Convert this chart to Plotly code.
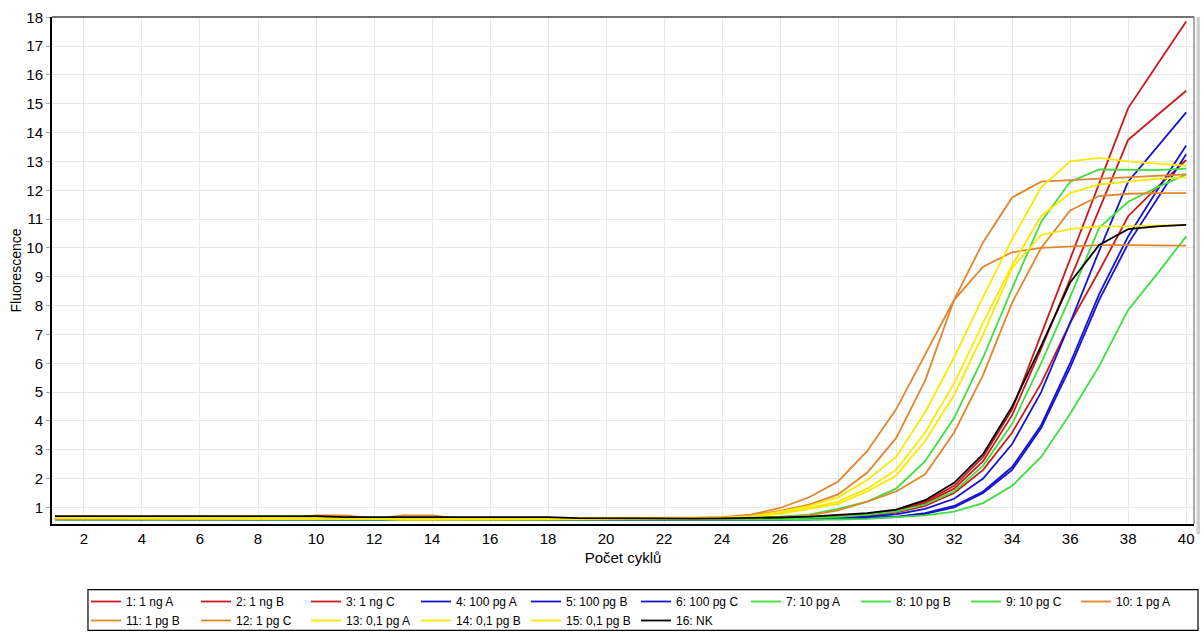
import plotly.graph_objects as go

cycles = list(range(1, 41))

names = ["1: 1 ng A", "2: 1 ng B", "3: 1 ng C", "4: 100 pg A", "5: 100 pg B", "6: 100 pg C",
         "7: 10 pg A", "8: 10 pg B", "9: 10 pg C", "10: 1 pg A", "11: 1 pg B", "12: 1 pg C",
         "13: 0,1 pg A", "14: 0,1 pg B", "15: 0,1 pg B", "16: NK"]

s1 = [0.62,0.62,0.61,0.61,0.61,0.61,0.61,0.61,0.61,0.61,0.60,0.60,0.60,0.60,0.60,0.60,0.60,0.59,0.59,0.59,
      0.59,0.59,0.60,0.60,0.61,0.62,0.64,0.68,0.76,0.88,1.20,1.75,2.75,4.40,7.00,9.60,12.20,14.85,16.35,17.85]
s2 = [0.61,0.61,0.61,0.61,0.60,0.60,0.60,0.60,0.60,0.60,0.60,0.60,0.59,0.59,0.59,0.59,0.59,0.59,0.59,0.59,
      0.59,0.59,0.59,0.60,0.60,0.61,0.63,0.67,0.74,0.86,1.15,1.65,2.60,4.20,6.50,8.90,11.30,13.75,14.60,15.45]
s3 = [0.60,0.60,0.60,0.60,0.60,0.60,0.59,0.59,0.59,0.59,0.59,0.59,0.59,0.58,0.58,0.58,0.58,0.58,0.58,0.58,
      0.58,0.58,0.58,0.59,0.59,0.60,0.62,0.65,0.71,0.82,1.05,1.50,2.30,3.60,5.30,7.40,9.20,11.10,12.10,13.05]
s4 = [0.60,0.60,0.59,0.59,0.59,0.59,0.59,0.58,0.58,0.58,0.58,0.58,0.58,0.58,0.58,0.58,0.58,0.57,0.57,0.57,
      0.57,0.57,0.57,0.58,0.58,0.59,0.60,0.63,0.68,0.76,0.95,1.30,2.00,3.20,5.00,7.40,9.90,12.30,13.50,14.70]
s5 = [0.59,0.59,0.59,0.58,0.58,0.58,0.58,0.58,0.57,0.57,0.57,0.57,0.57,0.57,0.57,0.57,0.56,0.56,0.56,0.56,
      0.56,0.56,0.56,0.57,0.57,0.58,0.59,0.61,0.63,0.67,0.80,1.05,1.55,2.40,3.85,6.00,8.40,10.40,12.00,13.55]
s6 = [0.58,0.58,0.58,0.58,0.58,0.57,0.57,0.57,0.57,0.57,0.57,0.57,0.56,0.56,0.56,0.56,0.56,0.56,0.56,0.56,
      0.56,0.56,0.56,0.56,0.57,0.57,0.58,0.60,0.62,0.66,0.78,1.00,1.50,2.30,3.75,5.85,8.20,10.15,11.70,13.25]
s7 = [0.62,0.62,0.61,0.61,0.61,0.61,0.61,0.61,0.61,0.61,0.61,0.61,0.60,0.60,0.60,0.60,0.60,0.60,0.60,0.60,
      0.60,0.60,0.61,0.62,0.64,0.68,0.75,0.95,1.20,1.65,2.60,4.10,6.20,8.60,10.90,12.30,12.72,12.70,12.70,12.75]
s8 = [0.60,0.60,0.60,0.60,0.60,0.60,0.60,0.60,0.60,0.60,0.59,0.59,0.59,0.59,0.59,0.59,0.58,0.58,0.58,0.58,
      0.58,0.58,0.58,0.59,0.60,0.61,0.63,0.67,0.74,0.85,1.10,1.55,2.45,3.90,6.00,8.30,10.70,11.60,12.10,12.55]
s9 = [0.58,0.58,0.58,0.58,0.58,0.58,0.58,0.58,0.58,0.58,0.58,0.57,0.57,0.57,0.57,0.57,0.57,0.57,0.56,0.56,
      0.56,0.56,0.56,0.56,0.56,0.57,0.57,0.58,0.60,0.65,0.72,0.85,1.15,1.75,2.75,4.25,5.90,7.85,9.10,10.40]
s10 = [0.63,0.63,0.63,0.63,0.63,0.63,0.63,0.63,0.63,0.63,0.63,0.62,0.62,0.62,0.62,0.62,0.62,0.62,0.62,0.62,
       0.62,0.63,0.64,0.66,0.75,0.98,1.35,1.90,2.95,4.40,6.30,8.20,9.35,9.85,10.00,10.05,10.10,10.10,10.10,10.08]
s11 = [0.62,0.62,0.62,0.62,0.62,0.62,0.62,0.62,0.62,0.72,0.72,0.62,0.62,0.62,0.61,0.61,0.61,0.61,0.61,0.61,
       0.61,0.62,0.63,0.65,0.72,0.88,1.10,1.45,2.20,3.40,5.40,8.20,10.20,11.75,12.30,12.35,12.40,12.45,12.50,12.55]
s12 = [0.60,0.60,0.60,0.60,0.60,0.60,0.60,0.60,0.60,0.60,0.60,0.60,0.72,0.72,0.60,0.60,0.60,0.59,0.59,0.59,
       0.59,0.59,0.60,0.61,0.63,0.66,0.72,0.90,1.20,1.55,2.15,3.60,5.60,8.10,10.00,11.30,11.80,11.88,11.90,11.90]
s13 = [0.66,0.66,0.64,0.63,0.63,0.63,0.63,0.62,0.62,0.62,0.62,0.62,0.61,0.61,0.61,0.61,0.61,0.60,0.60,0.60,
       0.60,0.61,0.62,0.64,0.70,0.85,1.05,1.35,1.95,2.75,4.30,6.20,8.30,10.30,12.10,13.00,13.12,13.00,12.92,12.85]
s14 = [0.64,0.63,0.62,0.62,0.62,0.62,0.61,0.61,0.61,0.61,0.61,0.61,0.60,0.60,0.60,0.60,0.60,0.60,0.60,0.60,
       0.60,0.60,0.61,0.63,0.68,0.80,0.98,1.20,1.65,2.30,3.60,5.30,7.40,9.40,11.10,11.90,12.20,12.30,12.40,12.45]
s15 = [0.63,0.62,0.61,0.61,0.61,0.61,0.61,0.60,0.60,0.60,0.60,0.60,0.57,0.57,0.57,0.59,0.59,0.59,0.59,0.59,
       0.59,0.60,0.60,0.62,0.66,0.78,0.95,1.12,1.55,2.10,3.30,4.90,7.00,9.30,10.45,10.65,10.75,10.75,10.78,10.80]
s16 = [0.70,0.70,0.70,0.70,0.70,0.70,0.70,0.70,0.70,0.70,0.66,0.66,0.66,0.66,0.66,0.66,0.66,0.66,0.63,0.62,
       0.61,0.61,0.61,0.62,0.63,0.65,0.68,0.73,0.80,0.92,1.25,1.85,2.85,4.50,6.60,8.80,10.10,10.65,10.75,10.80]

series = [s1, s2, s3, s4, s5, s6, s7, s8, s9, s10, s11, s12, s13, s14, s15, s16]

RED, BLUE, GREEN, ORANGE, YELLOW, BLACK = "#cc1a1a", "#1414d2", "#3ede3e", "#e3852a", "#fbe900", "#000000"
colors = [RED, RED, RED, BLUE, BLUE, BLUE, GREEN, GREEN, GREEN, ORANGE, ORANGE, ORANGE,
          YELLOW, YELLOW, YELLOW, BLACK]

x_ticks = list(range(2, 41, 2))
y_ticks = list(range(1, 19))

FONT = "Liberation Sans Narrow, Liberation Sans, Arial, sans-serif"

fig = go.Figure()
for name, vals, col in zip(names, series, colors):
    fig.add_trace(go.Scatter(x=cycles, y=vals, mode="lines", name=name,
                             line=dict(color=col, width=1.8)))

fig.update_layout(
    width=1204, height=633,
    margin=dict(l=52, r=9, t=14, b=109),
    plot_bgcolor="white", paper_bgcolor="white",
    font=dict(family=FONT, color="black", size=14),
    showlegend=True,
    legend=dict(orientation="h", xref="container", yref="container",
                x=86 / 1204, xanchor="left", y=1 - 587 / 633, yanchor="top",
                borderwidth=0, font=dict(size=12, family=FONT),
                entrywidth=65, entrywidthmode="pixels", itemwidth=30,
                traceorder="normal", bgcolor="rgba(0,0,0,0)"),
)
fig.update_xaxes(range=[0.898, 40.27], tickvals=x_ticks, showgrid=True, gridcolor="#e8e8e8",
                 zeroline=False, showline=True, linecolor="black", linewidth=2,
                 ticks="", ticklabelstandoff=0,
                 tickfont=dict(size=15, family=FONT),
                 title=dict(text="Počet cyklů", font=dict(size=15, family=FONT), standoff=6))
fig.update_yaxes(range=[0.424, 18.01], tickvals=y_ticks, showgrid=True, gridcolor="#e8e8e8",
                 zeroline=False, showline=True, linecolor="black", linewidth=2,
                 ticks="outside", ticklen=4, tickcolor="#aaaaaa",
                 tickfont=dict(size=15, family=FONT),
                 title=dict(text="Fluorescence", font=dict(size=14, family=FONT), standoff=1))

# top and right frame lines, the grey strip on the right edge, and the legend frame
fig.add_shape(type="line", xref="paper", yref="paper", x0=0, x1=1, y0=1, y1=1,
              line=dict(color="#444444", width=1.5))
fig.add_shape(type="line", xref="paper", yref="paper", x0=1, x1=1, y0=0, y1=1,
              line=dict(color="#555555", width=1))
fig.add_shape(type="rect", xref="paper", yref="paper", x0=1.0022, x1=1.0052, y0=-0.02, y1=1.0,
              line=dict(width=0), fillcolor="#cfcfcf")
fig.add_shape(type="rect", xref="paper", yref="paper", x0=(88 - 52) / 1143, x1=(1199 - 52) / 1143,
              y0=(524 - 631) / 510, y1=(524 - 590) / 510,
              line=dict(color="black", width=1.2), fillcolor="white", layer="below")

fig.write_html("out.html", config={"displayModeBar": False},
               post_script="document.body.style.margin='0px';document.body.style.overflow='hidden';")
